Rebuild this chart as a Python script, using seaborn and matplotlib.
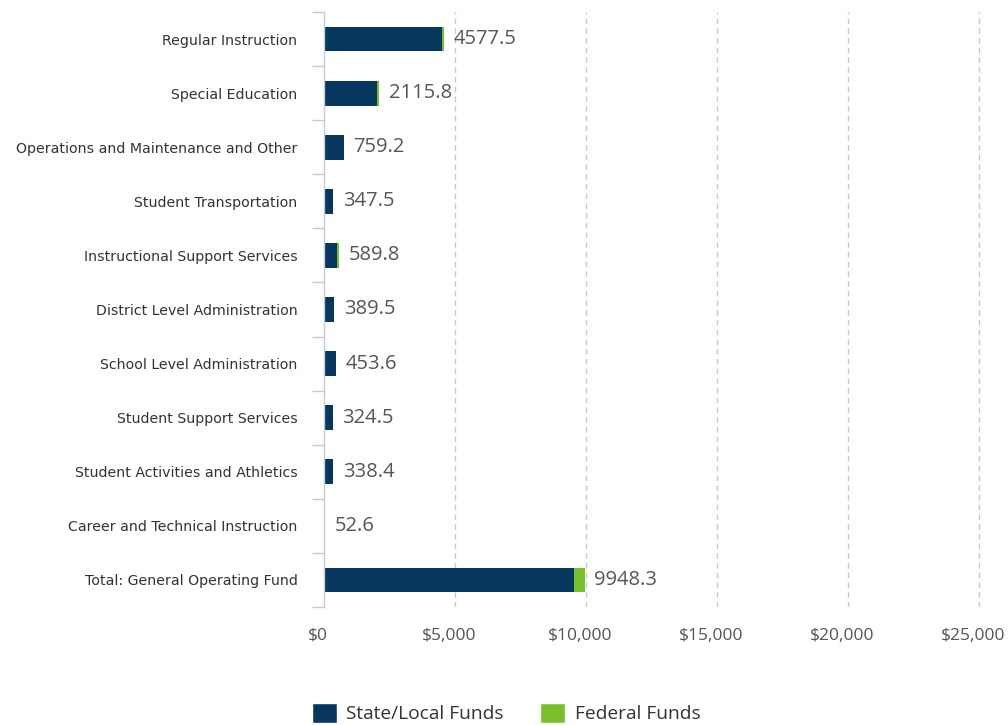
import matplotlib
matplotlib.use("Agg")
import matplotlib.pyplot as plt
import matplotlib.transforms as mtransforms
import seaborn as sns
import pandas as pd
import numpy as np
from matplotlib.patches import Patch
from matplotlib.ticker import FixedLocator, FuncFormatter

categories = ["Regular Instruction", "Special Education", "Operations and Maintenance and Other",
              "Student Transportation", "Instructional Support Services", "District Level Administration",
              "School Level Administration", "Student Support Services", "Student Activities and Athletics",
              "Career and Technical Instruction", "Total: General Operating Fund"]
state_local = [4500.0, 2030.0, 759.2, 347.5, 480.0, 389.5, 453.6, 324.5, 338.4, 52.6, 9520.0]
federal = [77.5, 85.8, 0.0, 0.0, 109.8, 0.0, 0.0, 0.0, 0.0, 0.0, 428.3]
totals = [4577.5, 2115.8, 759.2, 347.5, 589.8, 389.5, 453.6, 324.5, 338.4, 52.6, 9948.3]
x_ticks = [0, 5000, 10000, 15000, 20000, 25000]

NAVY = "#07375f"
GREEN = "#78c02a"
TEXT = "#555555"
AXIS = "#c0cad8"

sns.set_theme(style="white")
plt.rcParams['font.family'] = ['DejaVu Sans']

df = pd.DataFrame({"category": categories, "state": state_local, "federal": federal, "total": totals})
df["stack"] = df["state"] + df["federal"]

fig = plt.figure(figsize=(10.08, 7.25), dpi=100)
ax = fig.add_axes([324/1008, 1-607/725, (995-324)/1008, (607-12)/725])

sns.barplot(data=df, y="category", x="stack", color=GREEN, orient="h", width=0.46,
            saturation=1, ax=ax, linewidth=0)
sns.barplot(data=df, y="category", x="state", color=NAVY, orient="h", width=0.46,
            saturation=1, ax=ax, linewidth=0)

ax.set_xlim(0, 25600)
ax.set_ylim(len(categories) - 0.5, -0.5)

for i, (s, t) in enumerate(zip(df["stack"], totals)):
    ax.annotate(f"{t:.1f}", xy=(s, i), xytext=(7, 0), textcoords="offset points",
                va="center", ha="left", fontsize=14.5, color=TEXT,
                family=['Open Sans', 'DejaVu Sans'])

for v in x_ticks[1:]:
    ax.axvline(v, color="#c8c8c8", linestyle=(0, (4, 3)), linewidth=1, zorder=0)

ax.xaxis.set_major_locator(FixedLocator(x_ticks))
ax.xaxis.set_major_formatter(FuncFormatter(lambda v, p: f"${v:,.0f}"))
ax.tick_params(axis="x", length=0, pad=15, labelsize=12.5, labelcolor=TEXT)
shift = mtransforms.ScaledTranslation(-6/100, 0, fig.dpi_scale_trans)
for lab in ax.get_xticklabels():
    lab.set_family(['Open Sans', 'DejaVu Sans'])
    lab.set_transform(lab.get_transform() + shift)

ax.set_yticks(range(len(categories)))
ax.set_yticklabels(categories)
ax.yaxis.set_minor_locator(FixedLocator(np.arange(-0.5, len(categories), 1.0)))
ax.tick_params(axis="y", which="major", length=0, pad=19, labelsize=10.2, labelcolor="#333333")
ax.tick_params(axis="y", which="minor", length=9, width=1, color=AXIS, left=True)

ax.set_xlabel("")
ax.set_ylabel("")
for sp in ["top", "right", "bottom"]:
    ax.spines[sp].set_visible(False)
ax.spines["left"].set_color(AXIS)
ax.spines["left"].set_linewidth(1)

handles = [Patch(facecolor=NAVY, label="State/Local Funds"),
           Patch(facecolor=GREEN, label="Federal Funds")]
fig.legend(handles=handles, loc="center", bbox_to_anchor=(506/1008, 1-713/725), ncol=2,
           frameon=False, handlelength=1.3, handleheight=1.3, columnspacing=1.9,
           handletextpad=0.5, prop={'family': ['Open Sans', 'DejaVu Sans'], 'size': 13.8})
for t in fig.legends[0].get_texts():
    t.set_color("#333333")

fig.savefig("out.png", dpi=100)
